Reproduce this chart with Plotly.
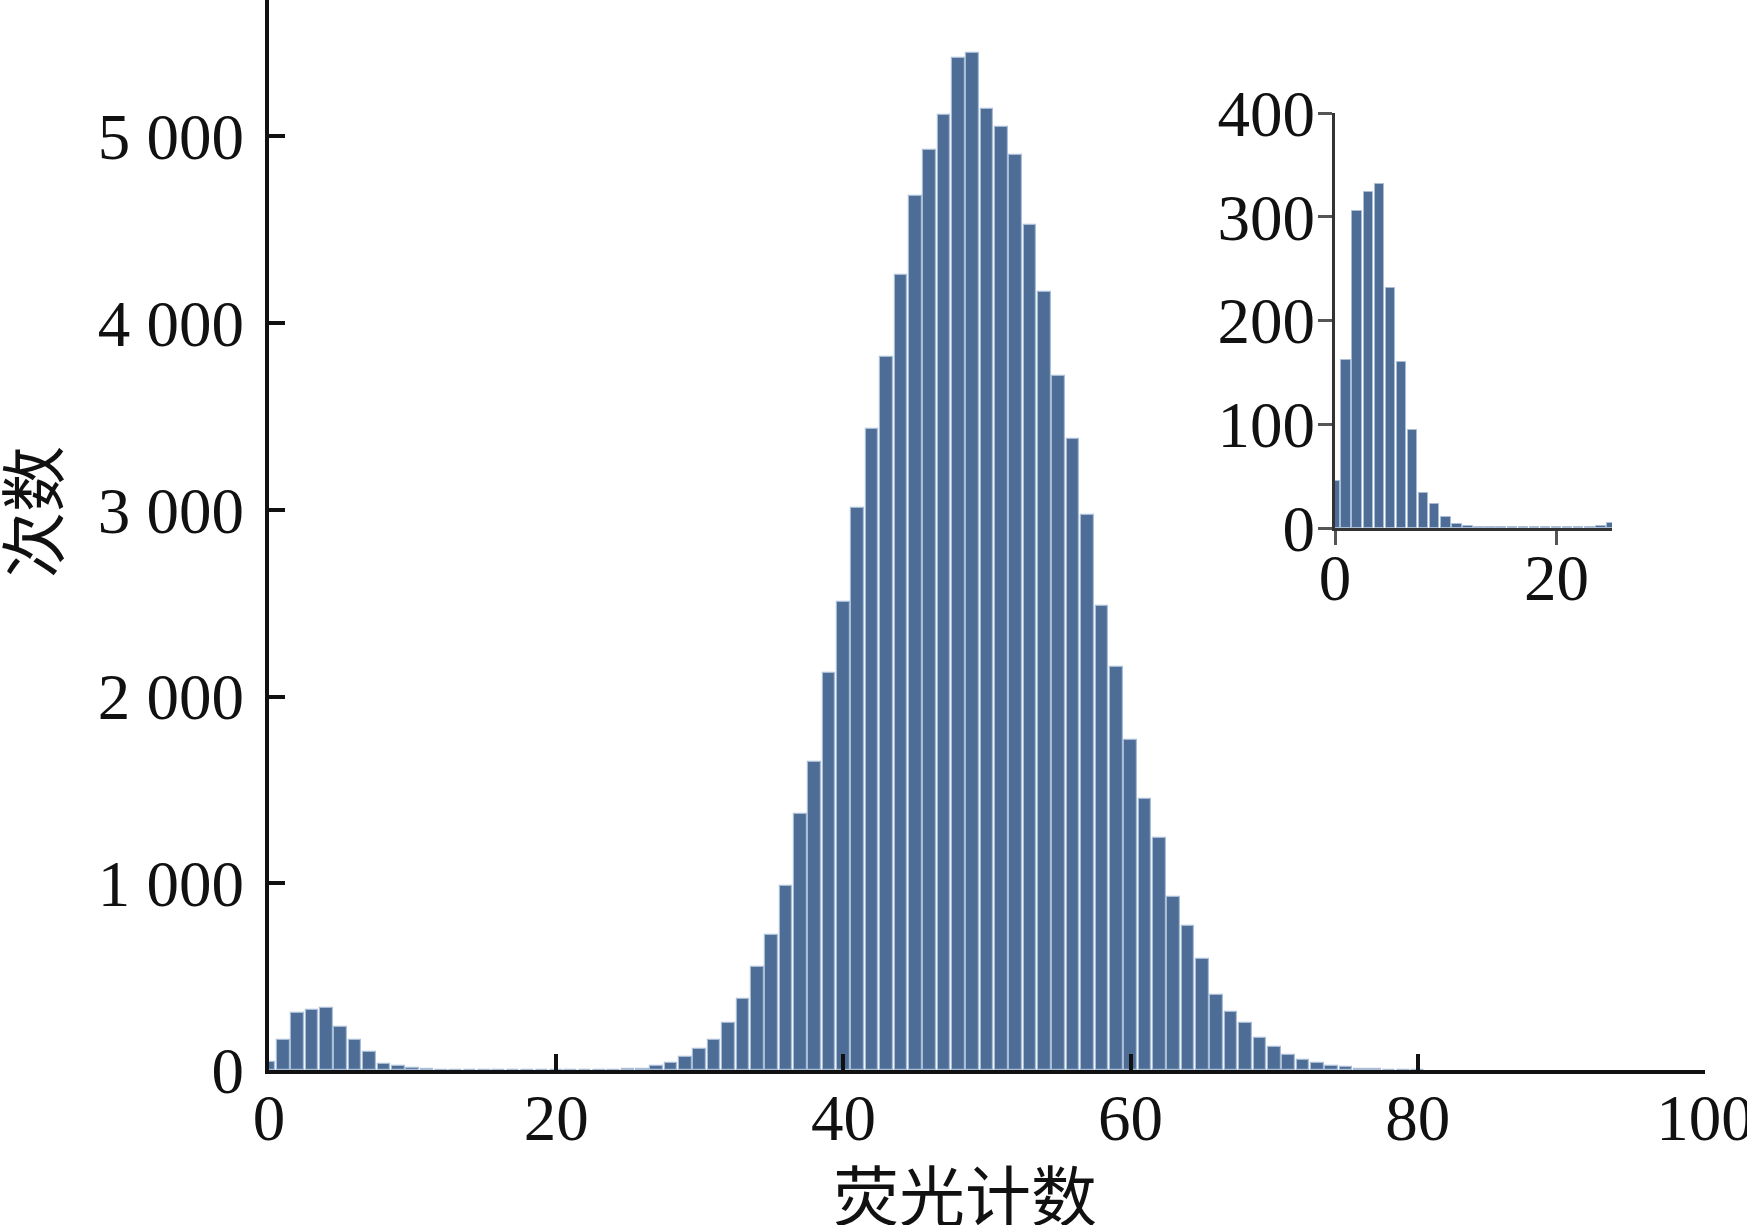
import plotly.graph_objects as go

# ---- data ----
fluor_counts = list(range(0, 81))
occurrences = [
    45, 162, 306, 324, 332, 231, 160, 94, 34, 23,      # 0-9
    11, 4, 2, 1, 1, 1, 1, 1, 1, 1,                     # 10-19
    1, 1, 1, 1, 2, 5, 7, 19, 35, 71,                   # 20-29
    112, 159, 254, 378, 551, 722, 983, 1369, 1648, 2128,   # 30-39
    2508, 3008, 3432, 3818, 4259, 4679, 4929, 5115, 5417, 5447,  # 40-49
    5144, 5052, 4898, 4525, 4166, 3716, 3377, 2971, 2485, 2157,  # 50-59
    1768, 1451, 1244, 928, 771, 593, 400, 312, 252, 171,   # 60-69
    125, 80, 54, 38, 22, 18, 6, 4, 2, 1,               # 70-79
    1,                                                 # 80
]

main_xticks = [0, 20, 40, 60, 80, 100]
main_yticks = [0, 1000, 2000, 3000, 4000, 5000]
main_yticktext = ["0", "1 000", "2 000", "3 000", "4 000", "5 000"]
inset_xticks = [0, 20]
inset_yticks = [0, 100, 200, 300, 400]

x_title = "荧光计数"
y_title = "次数"

# ---- styles ----
W, H = 1747, 1225
L, R, T, B = 269, 42, 0, 155
BAR = "#4d6d96"
EDGE = "#a9bdd6"
NUM_FONT = dict(family="Liberation Serif, Times New Roman, serif", size=65, color="#111111")
CJK_FONT = dict(family="Noto Sans CJK SC, sans-serif", size=66, color="#111111")

fig = go.Figure()

fig.add_trace(go.Bar(
    x=fluor_counts, y=occurrences, width=0.88,
    marker=dict(color=BAR, line=dict(color=EDGE, width=1.2)),
    xaxis="x", yaxis="y", showlegend=False,
))

inset_x = [k for k in fluor_counts if k <= 25]
inset_y = occurrences[:len(inset_x)]
fig.add_trace(go.Bar(
    x=inset_x, y=inset_y, width=0.85,
    marker=dict(color=BAR, line=dict(color=EDGE, width=1.0)),
    xaxis="x2", yaxis="y2", showlegend=False,
))

pw = W - L - R
ph = H - T - B
ix0 = (1335 - L) / pw
ix1 = (1612 - L) / pw
iy0 = (H - B - 528) / ph
iy1 = (H - B - 113) / ph

common = dict(showgrid=False, zeroline=False, automargin=False,
              ticklabeloverflow="allow", tickfont=NUM_FONT)

fig.update_layout(
    template="none",
    width=W, height=H,
    margin=dict(l=L, r=R, t=T, b=B, autoexpand=False),
    paper_bgcolor="white", plot_bgcolor="white",
    bargap=0,
    xaxis=dict(
        range=[0, 100], tickvals=main_xticks, ticks="inside", ticklen=16, tickwidth=4,
        tickcolor="#111111", showline=True, linecolor="#111111", linewidth=4,
        ticklabelstandoff=-12, **common,
    ),
    yaxis=dict(
        range=[0, 5730], tickvals=main_yticks, ticktext=main_yticktext,
        ticks="inside", ticklen=16, tickwidth=4, tickcolor="#111111",
        showline=True, linecolor="#111111", linewidth=4,
        ticklabelstandoff=8, **common,
    ),
    xaxis2=dict(
        domain=[ix0, ix1], anchor="y2", range=[0, 25], tickvals=inset_xticks,
        ticks="outside", ticklen=14, tickwidth=3, tickcolor="#555555",
        showline=True, linecolor="#333333", linewidth=3,
        ticklabelstandoff=-23, **common,
    ),
    yaxis2=dict(
        domain=[iy0, iy1], anchor="x2", range=[0, 400], tickvals=inset_yticks,
        ticks="outside", ticklen=14, tickwidth=3, tickcolor="#555555",
        showline=True, linecolor="#333333", linewidth=3,
        ticklabelstandoff=-10, **common,
    ),
    annotations=[
        dict(text=x_title, xref="paper", yref="paper",
             x=(965 - L) / pw, y=(H - B - 1192) / ph,
             xanchor="center", yanchor="middle", showarrow=False, font=CJK_FONT),
        dict(text=y_title, xref="paper", yref="paper",
             x=(29 - L) / pw, y=(H - B - 512) / ph, textangle=-90,
             xanchor="center", yanchor="middle", showarrow=False, font=CJK_FONT),
    ],
)

fig.write_html("out.html", config={"displayModeBar": False},
               post_script="document.body.style.margin='0px';")
